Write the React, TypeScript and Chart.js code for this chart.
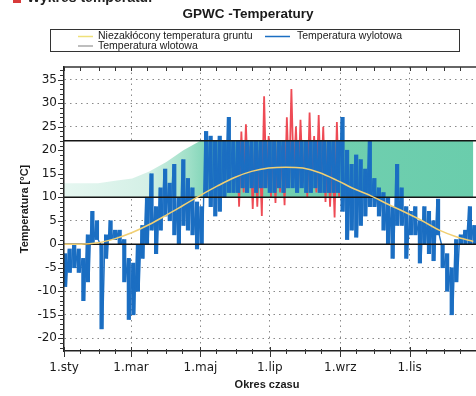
import React, { useEffect, useRef } from 'react';
import { Chart, registerables } from 'chart.js';

Chart.register(...registerables);

// ---- texts ----
const HEADER_TEXT = 'Wykres temperatur';
const TITLE_TEXT = 'GPWC -Temperatury';
const X_TITLE = 'Okres czasu';
const Y_TITLE = 'Temperatura [°C]';
const LEGEND_GROUND = 'Niezakłócony temperatura gruntu';
const LEGEND_OUTLET = 'Temperatura wylotowa';
const LEGEND_INLET = 'Temperatura wlotowa';

// ---- axes ----
const X_MIN = 0;
const X_MAX = 365;
const Y_MIN = -22.7;
const Y_MAX = 37.7;
const Y_STEP = 5;
const monthLabelDays = [0, 59, 120, 181, 243, 304];
const monthLabels = ['1.sty', '1.mar', '1.maj', '1.lip', '1.wrz', '1.lis'];
const monthStartDays = [0, 31, 59, 90, 120, 151, 181, 212, 243, 273, 304, 334];

// ---- outlet temperature (blue), high / low per 4-day bin ----
const BIN_DAYS = 4;
const outletHigh = [
  -2, -1, 0, -1, -3, 2, 7, 5, 0, 2, 5, 3, 3, 1, -3, -4, 0, 4, 10, 15,
  8, 12, 16, 13, 17, 10, 18, 14, 12, 9, 8, 24, 23, 22, 23, 22, 27, 22,
  22, 22, 22, 22, 22, 22, 22, 22, 22, 22, 22, 22, 22, 22, 22, 22, 22, 22, 22, 22, 22, 22, 22,
  27, 20, 17, 19, 18, 16, 22, 14, 12, 11, 10, 8, 17, 12, 8, 7, 8, 5, 8, 7,
  5, 9.6, 0, -2, -5, 1, 2, 3, 8, 4, 3,
];
const outletLow = [
  -9, -6, -5, -6, -12, -8, 0, 1, -18, -3, 1, 1, 0, -8, -16, -15, -10, -3, 0, 3,
  -2, 3, 6, 5, 2, 0, 4, 3, 2, -1, 0, 10, 8, 6, 7, 10, 11, 11,
  11, 12, 11, 12, 11, 12, 12, 11, 11, 12, 11, 12, 12, 11, 12, 11, 11, 12, 11, 11, 11, 11, 11,
  7, 1, 3, 1.5, 4, 6, 8, 8, 6, 3, 0, -3, 4, 4, -3, 2, 2, -4, 0, -2,
  -3.5, 2, -5, -10, -15, -8, 0, 0, 0, 0, 0,
];

// ---- inlet temperature (red), summer bins only ----
const INLET_START_BIN = 38;
const inletHigh = [22, 24, 25.5, 21, 22, 20, 31.5, 23, 22, 22, 21, 27, 33, 25, 26.5, 22, 28, 23, 27.5, 25, 22, 20, 26];
const inletLow = [8, 11, 12, 7.5, 8, 6, 12, 10, 8.8, 11, 8.3, 12, 14, 12, 13, 10, 12, 11, 11, 9, 8, 5.7, 10];

// ---- undisturbed ground temperature (yellow), every 15 days ----
const GROUND_STEP = 15;
const groundTemp = [0, 0, 0.3, 1.2, 2.5, 4.2, 6.2, 8.3, 10.4, 12.4, 14.2, 15.5, 16.2, 16.4, 16.2, 15.2, 13.6, 11.8, 10.3, 8.5, 6.8, 5.0, 3.0, 1.6, 0.6];

// ---- green band top (every 15 days) and limits ----
const BAND_STEP = 15;
const bandTop = [13, 13, 13, 13.5, 14, 15.5, 17.5, 20, 22, 22, 22, 22, 22, 22, 22, 22, 22, 22, 22, 22, 22, 22, 22, 22, 22];
const upperLimit = 22;
const lowerLimit = 10;
const zeroLine = 0;

const TICK_FONT = { family: '"DejaVu Sans"', size: 12 };
const BLUE = '#1b6ec2';

export default function App() {
  const ref = useRef<HTMLCanvasElement>(null);

  useEffect(() => {
    document.body.style.margin = '0';
    const canvas = ref.current;
    if (!canvas) return;

    const outletPts: { x: number; y: number }[] = [];
    outletHigh.forEach((h, k) => {
      outletPts.push({ x: k * BIN_DAYS, y: h });
      outletPts.push({ x: k * BIN_DAYS + BIN_DAYS / 2, y: outletLow[k] });
    });
    const outletRanges = outletHigh.map((h, k) => ({ x: k * BIN_DAYS + BIN_DAYS / 4, y: [outletLow[k], h] }));
    const inletPts: { x: number; y: number }[] = [];
    inletHigh.forEach((h, i) => {
      const k = INLET_START_BIN + i;
      inletPts.push({ x: k * BIN_DAYS, y: h });
      inletPts.push({ x: k * BIN_DAYS + BIN_DAYS / 2, y: inletLow[i] });
    });
    const groundPts = groundTemp.map((v, i) => ({ x: i * GROUND_STEP, y: v }));
    const bandPts = bandTop.map((v, i) => ({ x: i * BAND_STEP, y: v }));
    const flat = (v: number) => [{ x: X_MIN, y: v }, { x: X_MAX, y: v }];

    const decor = {
      id: 'decor',
      afterDraw(chart: any) {
        const c = chart.ctx as CanvasRenderingContext2D;
        const a = chart.chartArea;
        const xs = chart.scales.x;
        const ys = chart.scales.y;
        c.save();
        // cut-off header
        c.fillStyle = '#d83a3a';
        c.fillRect(13, -6, 8, 9);
        c.fillStyle = '#222';
        c.font = 'bold 14px "Liberation Sans"';
        c.textAlign = 'left';
        c.textBaseline = 'alphabetic';
        c.fillText(HEADER_TEXT, 27, 1.5);
        // title
        c.font = 'bold 13.5px "Liberation Sans"';
        c.textAlign = 'center';
        c.textBaseline = 'middle';
        c.fillStyle = '#1a1a1a';
        c.fillText(TITLE_TEXT, 248, 14);
        // legend
        c.strokeStyle = '#333';
        c.lineWidth = 1;
        c.strokeRect(50.5, 29.5, 409, 22);
        c.font = '10.5px "Liberation Sans"';
        c.textAlign = 'left';
        c.fillStyle = '#1a1a1a';
        const legLine = (x1: number, x2: number, y: number, col: string) => {
          c.beginPath();
          c.strokeStyle = col;
          c.lineWidth = 1.5;
          c.moveTo(x1, y);
          c.lineTo(x2, y);
          c.stroke();
        };
        legLine(78, 93, 36.5, '#efe07a');
        c.fillText(LEGEND_GROUND, 98, 36.5);
        legLine(265, 290, 36.5, BLUE);
        c.fillText(LEGEND_OUTLET, 297, 36.5);
        legLine(78, 93, 46, '#a8a8a8');
        c.fillText(LEGEND_INLET, 98, 46);
        // axis titles
        c.fillStyle = '#1a1a1a';
        c.font = 'bold 11px "Liberation Sans"';
        c.textAlign = 'center';
        c.fillText(X_TITLE, 267, 385);
        c.save();
        c.translate(25, (a.top + a.bottom) / 2);
        c.rotate(-Math.PI / 2);
        c.fillText(Y_TITLE, 0, 0);
        c.restore();
        // top border
        c.strokeStyle = '#333';
        c.lineWidth = 1.5;
        c.beginPath();
        c.moveTo(a.left, a.top);
        c.lineTo(a.right, a.top);
        c.stroke();
        // x tick marks (month starts and mid-months)
        c.lineWidth = 1;
        c.strokeStyle = '#333';
        const xTickDays: number[] = [];
        monthStartDays.forEach((d) => { xTickDays.push(d); xTickDays.push(d + 14); });
        xTickDays.forEach((d) => {
          const px = Math.round(xs.getPixelForValue(d)) + 0.5;
          const major = monthLabelDays.includes(d);
          c.beginPath();
          c.moveTo(px, major ? a.bottom - 4 : a.bottom - 2);
          c.lineTo(px, major ? a.bottom + 6 : a.bottom + 3);
          c.moveTo(px, a.top);
          c.lineTo(px, a.top + 4);
          c.stroke();
        });
        // y minor tick marks
        for (let v = Math.ceil(Y_MIN); v <= Math.floor(Y_MAX); v++) {
          const py = Math.round(ys.getPixelForValue(v)) + 0.5;
          const major = v % Y_STEP === 0;
          c.beginPath();
          c.moveTo(a.left - (major ? 6 : 4), py);
          c.lineTo(a.left, py);
          c.stroke();
        }
        c.restore();
      },
    };

    const chart = new Chart(canvas, {
      type: 'line',
      data: {
        datasets: [
          {
            label: LEGEND_GROUND,
            data: groundPts,
            borderColor: '#f1cf72',
            borderWidth: 1.5,
            cubicInterpolationMode: 'monotone',
            pointRadius: 0,
            order: 0,
          },
          { label: 'upper', data: flat(upperLimit), borderColor: '#151515', borderWidth: 1.6, pointRadius: 0, order: 1 },
          { label: 'lower', data: flat(lowerLimit), borderColor: '#151515', borderWidth: 1.6, pointRadius: 0, order: 1 },
          { label: 'zero', data: flat(zeroLine), borderColor: '#151515', borderWidth: 1.6, pointRadius: 0, order: 1 },
          {
            label: LEGEND_OUTLET,
            data: outletPts,
            borderColor: BLUE,
            borderWidth: 1.4,
            borderJoinStyle: 'bevel',
            pointRadius: 0,
            order: 2,
          },
          {
            type: 'bar',
            label: 'outletRange',
            data: outletRanges,
            backgroundColor: BLUE,
            borderWidth: 0,
            barThickness: 3.5,
            grouped: false,
            order: 2.5,
          },
          {
            label: LEGEND_INLET,
            data: inletPts,
            borderColor: '#ee4b55',
            borderWidth: 1.8,
            borderJoinStyle: 'bevel',
            pointRadius: 0,
            order: 3,
          },
          {
            label: 'band',
            data: bandPts,
            borderWidth: 0,
            pointRadius: 0,
            fill: { value: lowerLimit },
            backgroundColor: (ctx: any) => {
              const ch = ctx.chart;
              const area = ch.chartArea;
              if (!area) return 'rgb(110,206,175)';
              const g = ch.ctx.createLinearGradient(area.left, 0, area.right, 0);
              g.addColorStop(0, 'rgb(230,247,241)');
              g.addColorStop(0.2, 'rgb(212,240,230)');
              g.addColorStop(0.3, 'rgb(160,224,200)');
              g.addColorStop(0.36, 'rgb(116,208,177)');
              g.addColorStop(1, 'rgb(106,205,172)');
              return g;
            },
            order: 4,
          },
          {
            label: 'bandBase',
            data: flat(upperLimit),
            borderWidth: 0,
            pointRadius: 0,
            fill: { value: lowerLimit },
            backgroundColor: '#ffffff',
            order: 5,
          },
        ],
      },
      options: {
        responsive: false,
        animation: false,
        layout: { padding: { top: 67, left: 0, right: 0, bottom: 0 } },
        plugins: {
          legend: { display: false },
          title: { display: false },
          tooltip: { enabled: false },
        },
        scales: {
          x: {
            type: 'linear',
            min: X_MIN,
            max: X_MAX,
            offset: false,
            afterFit: (s: any) => { s.height = 45; },
            afterBuildTicks: (s: any) => { s.ticks = monthLabelDays.map((v) => ({ value: v })); },
            ticks: {
              autoSkip: false,
              maxRotation: 0,
              padding: 10,
              color: '#1a1a1a',
              font: TICK_FONT,
              callback: (v: any) => {
                const i = monthLabelDays.indexOf(Number(v));
                return i >= 0 ? monthLabels[i] : '';
              },
            },
            grid: {
              drawTicks: false,
              offset: false,
              lineWidth: 1,
              color: (ctx: any) => (ctx.tick && ctx.tick.value === X_MIN ? 'rgba(0,0,0,0)' : '#8a8a8a'),
            },
            border: { display: true, color: '#222', width: 1.5, dash: [1.5, 4], z: 1 },
          },
          y: {
            type: 'linear',
            min: Y_MIN,
            max: Y_MAX,
            afterFit: (s: any) => { s.width = 64; },
            ticks: {
              stepSize: Y_STEP,
              includeBounds: false,
              padding: 7,
              color: '#1a1a1a',
              font: TICK_FONT,
              callback: (v: any) => String(v),
            },
            grid: { drawTicks: false, lineWidth: 1, color: '#8a8a8a' },
            border: { display: true, color: '#222', width: 1.5, dash: [1.5, 4], z: 1 },
          },
        },
      },
      plugins: [decor],
    } as any);

    return () => chart.destroy();
  }, []);

  return (
    <div style={{ width: 476, height: 396, overflow: 'hidden', position: 'relative', background: '#fff' }}>
      <canvas ref={ref} width={479} height={396} style={{ display: 'block' }} />
    </div>
  );
}
